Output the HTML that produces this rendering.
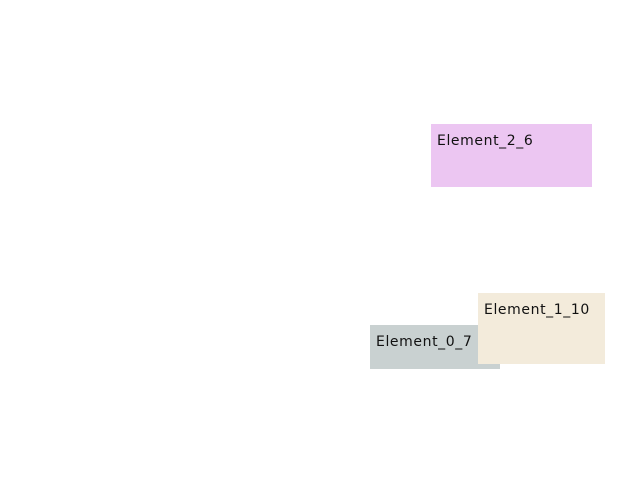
<!DOCTYPE html>
<html><head><style>
body{margin:0;width:640px;height:480px;background:#fff;position:relative;overflow:hidden;font-family:"DejaVu Sans","Liberation Sans",sans-serif;}
.b{position:absolute;font-size:14px;letter-spacing:0.6px;color:#111;box-sizing:border-box;padding:9px 0 0 6px;line-height:16px;white-space:nowrap;}
</style></head><body>
<div class="b" style="left:431px;top:124px;width:161px;height:63px;background:#ecc6f2;">Element_2_6</div>
<div class="b" style="left:370px;top:325px;width:130px;height:44px;background:#c9d1d1;">Element_0_7</div>
<div class="b" style="left:478px;top:293px;width:127px;height:71px;background:#f3ebdb;">Element_1_10</div>
</body></html>
